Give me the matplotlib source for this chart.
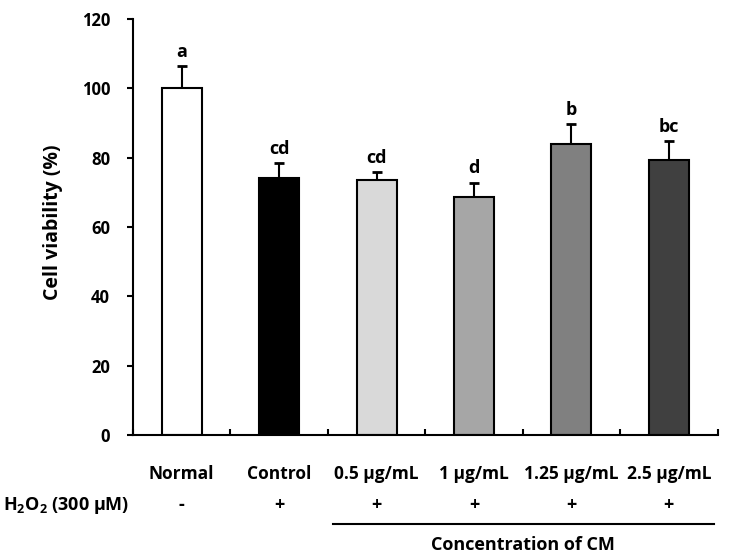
import matplotlib
matplotlib.use("Agg")
import matplotlib.pyplot as plt
import matplotlib.transforms as mtransforms
import numpy as np

plt.rcParams['font.family'] = ['Open Sans', 'DejaVu Sans']
plt.rcParams['font.weight'] = 'bold'
plt.rcParams['mathtext.fontset'] = 'custom'
plt.rcParams['mathtext.rm'] = 'Open Sans:bold'
plt.rcParams['mathtext.bf'] = 'Open Sans:bold'
plt.rcParams['mathtext.default'] = 'bf'

groups = ['Normal', 'Control', '0.5 μg/mL', '1 μg/mL', '1.25 μg/mL', '2.5 μg/mL']
viability = [100.0, 74.2, 73.5, 68.7, 84.0, 79.2]
errors = [6.3, 4.2, 2.3, 4.1, 5.6, 5.5]
letters = ['a', 'cd', 'cd', 'd', 'b', 'bc']
h2o2 = ['-', '+', '+', '+', '+', '+']
colors = ['white', 'black', '#d9d9d9', '#a6a6a6', '#808080', '#404040']

fig = plt.figure(figsize=(7.31, 5.6), dpi=100)
ax = fig.add_axes([133/731, 1 - 435/560, (717.5-133)/731, (435-19)/560])

x = np.arange(len(groups))
ax.bar(x, viability, width=0.41, color=colors, edgecolor='black', linewidth=1.5, zorder=2)
ax.errorbar(x, viability, yerr=[np.zeros(len(errors)), errors], fmt='none',
            ecolor='black', elinewidth=1.5, capsize=3.5, capthick=2, zorder=1)

for xi, v, e, lab in zip(x, viability, errors, letters):
    ax.annotate(lab, (xi, v + e), xytext=(0, 4), textcoords='offset points',
                ha='center', va='bottom', fontsize=13, fontweight='bold')

ax.set_xlim(-0.5, 5.5)
ax.set_ylim(0, 120)
ax.set_yticks(range(0, 121, 20))
ax.tick_params(axis='y', direction='out', length=4, width=1.5, labelsize=12, pad=12.5)

ax.set_xticks(x)
ax.set_xticklabels(groups, fontsize=12.5, fontweight='bold')
ax.tick_params(axis='x', which='major', length=0, pad=21.5)
ax.set_xticks(np.arange(-0.5, 6.0, 1.0), minor=True)
ax.tick_params(axis='x', which='minor', direction='in', length=4, width=1.5)

for s in ['top', 'right']:
    ax.spines[s].set_visible(False)
for s in ['left', 'bottom']:
    ax.spines[s].set_linewidth(1.5)

fig.text(53/731, 1 - 222/560, 'Cell viability (%)', rotation=90, ha='center', va='center',
         fontsize=14, fontweight='bold')

trans = mtransforms.blended_transform_factory(ax.transData, fig.transFigure)
for xi, sign in zip(x, h2o2):
    ax.text(xi, 1 - 505/560, sign, transform=trans, ha='center', va='center',
            fontsize=13, fontweight='bold')
fig.text(3/731, 1 - 505/560, r'H$_2$O$_2$ (300 μM)', ha='left', va='center',
         fontsize=13, fontweight='bold')

ax.plot([1.55, 5.46], [1 - 524/560] * 2, transform=trans, color='black', lw=1.5,
        clip_on=False)
ax.text(3.5, 1 - 545/560, 'Concentration of CM', transform=trans, ha='center',
        va='center', fontsize=13, fontweight='bold')

fig.savefig('out.png', dpi=100)
